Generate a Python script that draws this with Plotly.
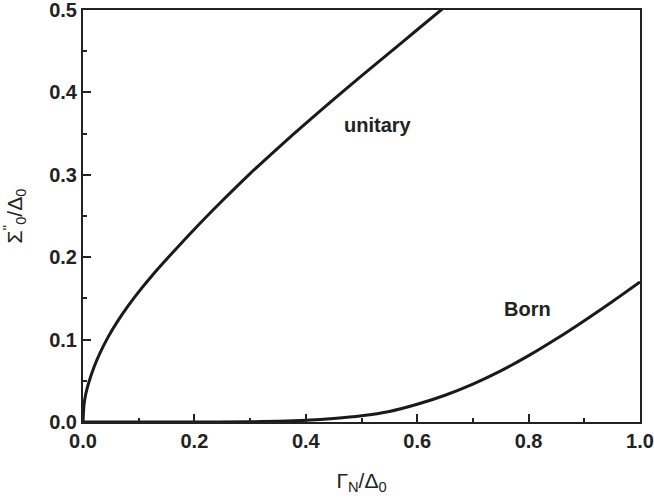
import plotly.graph_objects as go

# unitary limit
x_unitary = [0.0, 0.002, 0.005, 0.01, 0.02, 0.03, 0.045, 0.06, 0.08, 0.1, 0.125, 0.15, 0.2, 0.25,
             0.3, 0.35, 0.4, 0.45, 0.5, 0.55, 0.6, 0.65]
y_unitary = [0.0, 0.022, 0.034, 0.047, 0.067, 0.083, 0.103, 0.120, 0.140, 0.158, 0.1785, 0.1975, 0.234, 0.2685,
             0.3015, 0.3325, 0.3625, 0.3915, 0.420, 0.448, 0.476, 0.504]

# Born limit
x_born = [0.0, 0.2, 0.3, 0.35, 0.4, 0.45, 0.5, 0.55, 0.6, 0.65, 0.7, 0.75, 0.8, 0.85, 0.9, 0.95, 1.0]
y_born = [0.0, 0.0, 0.0003, 0.001, 0.0022, 0.0043, 0.0075, 0.0128, 0.0215, 0.0325, 0.046, 0.062, 0.0805, 0.101, 0.123, 0.146, 0.170]

labels = ["unitary", "Born"]
label_x = [0.53, 0.798]
label_y = [0.36, 0.137]

font = "Liberation Sans, Arial, sans-serif"

fig = go.Figure()
fig.add_trace(go.Scatter(x=x_unitary, y=y_unitary, mode="lines",
                         line=dict(color="#1a1a1a", width=3, shape="spline", smoothing=0.8)))
fig.add_trace(go.Scatter(x=x_born, y=y_born, mode="lines",
                         line=dict(color="#1a1a1a", width=3, shape="spline", smoothing=0.8)))

for t, lx, ly in zip(labels, label_x, label_y):
    fig.add_annotation(x=lx, y=ly, text=t, showarrow=False,
                       font=dict(family=font, size=20, color="#222", weight="bold"))

axis_common = dict(
    showgrid=False, zeroline=False, showline=True, mirror=True,
    linecolor="#222", linewidth=2, automargin=False, ticklabeloverflow="allow",
    ticks="inside", ticklen=8, tickwidth=1.5, tickcolor="#222",
    tickfont=dict(family=font, size=20, color="#222", weight="bold"),
)

fig.update_xaxes(range=[0, 1.0], tickvals=[0, 0.2, 0.4, 0.6, 0.8, 1.0], tickformat=".1f",
                 minor=dict(ticks="inside", ticklen=4, tickwidth=1.5, tickcolor="#222", dtick=0.1),
                 title=dict(text="Γ<sub>N</sub>/Δ<sub>0</sub>", font=dict(family=font, size=21, color="#222"),
                            standoff=22),
                 **axis_common)
fig.update_yaxes(range=[0, 0.5], tickvals=[0, 0.1, 0.2, 0.3, 0.4, 0.5], tickformat=".1f",
                 minor=dict(ticks="inside", ticklen=4, tickwidth=1.5, tickcolor="#222", dtick=0.05),
                 title=dict(text="Σ<sup>''</sup><sub>0</sub>/Δ<sub>0</sub>", font=dict(family=font, size=21, color="#222"),
                            standoff=27),
                 **axis_common)

fig.update_layout(width=654, height=498, showlegend=False,
                  margin=dict(l=83, r=14, t=10, b=76),
                  plot_bgcolor="white", paper_bgcolor="white")

# drop the page's default body margin so the figure sits at the window corner
fig.write_html("out.html", config={"displayModeBar": False},
               post_script="document.body.style.margin='0';")
